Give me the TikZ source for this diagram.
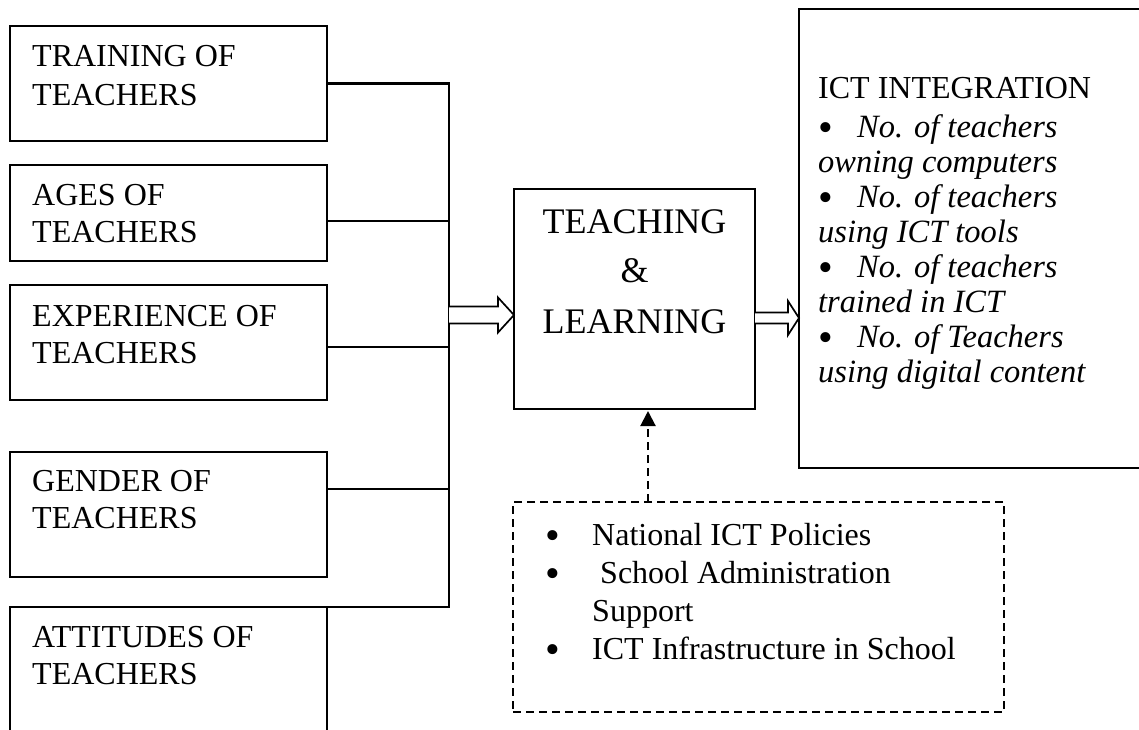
\documentclass[tikz,border=0pt]{standalone}
\usepackage{fontspec}
\setmainfont{Liberation Serif}
\usetikzlibrary{arrows.meta,calc}
\newcommand{\bigbul}{\raisebox{-4pt}{\fontsize{42}{42}\selectfont\upshape •}}
\begin{document}
\begin{tikzpicture}[x=1pt,y=-1pt,
  box/.style={draw, line width=2.1pt, rectangle, inner sep=0pt, outer sep=0pt},
  dbox/.style={draw, line width=2.1pt, rectangle, inner sep=0pt, outer sep=0pt, dash pattern=on 8pt off 5pt},
  link/.style={line width=2.1pt},
  fat/.style={draw, line width=1.7pt, fill=white, line join=miter},
  lbl/.style={anchor=base west, inner sep=0pt, font=\fontsize{32}{38}\selectfont},
  big/.style={anchor=base, inner sep=0pt, font=\fontsize{36}{40}\selectfont},
  ital/.style={anchor=base west, inner sep=0pt, font=\fontsize{32.5}{36}\selectfont\itshape},
  blt/.style={anchor=base west, inner sep=0pt, font=\fontsize{32.5}{36}\selectfont}
]
\useasboundingbox (0,0) rectangle (1139,729);
\clip (0,0) rectangle (1139,729);

% left boxes
\node[box, minimum width=317pt, minimum height=115pt] (b1) at (168.5,83.5) {};
\node[box, minimum width=317pt, minimum height=96pt]  (b2) at (168.5,213) {};
\node[box, minimum width=317pt, minimum height=115pt] (b3) at (168.5,342.5) {};
\node[box, minimum width=317pt, minimum height=125pt] (b4) at (168.5,514.5) {};
\node[box, minimum width=317pt, minimum height=180pt] (b5) at (168.5,697) {};

\node[lbl] (t1a) at (32,66) {TRAINING OF};
\node[lbl] (t1b) at (32,105) {TEACHERS};
\node[lbl] (t2a) at (32,205) {AGES OF};
\node[lbl] (t2b) at (32,242) {TEACHERS};
\node[lbl] (t3a) at (32,326) {EXPERIENCE OF};
\node[lbl] (t3b) at (32,363) {TEACHERS};
\node[lbl] (t4a) at (32,491) {GENDER OF};
\node[lbl] (t4b) at (32,528) {TEACHERS};
\node[lbl] (t5a) at (32,647) {ATTITUDES OF};
\node[lbl] (t5b) at (32,684) {TEACHERS};

% bus
\coordinate (j1) at (449,83.5);
\coordinate (j2) at (449,221);
\coordinate (j3) at (449,347);
\coordinate (j4) at (449,489);
\coordinate (j5) at (449,607);
\draw[link] (b1.east) -- (j1) -- (j5) -- (b5.north east);
\draw[link] (b2.east |- j2) -- (j2);
\draw[link] (b3.east |- j3) -- (j3);
\draw[link] (b4.east |- j4) -- (j4);

% central box
\node[box, minimum width=241pt, minimum height=220pt] (teach) at (634.5,299) {};
\node[big] (tt1) at (634.5,233) {TEACHING};
\node[big] (tt2) at (634.5,282) {\&};
\node[big] (tt3) at (634.5,333) {LEARNING};

% ICT box (extends past the right edge)
\node[box, minimum width=381pt, minimum height=459pt] (ict) at (989.5,238.5) {};
\node[lbl] (i0) at (818,98) {ICT INTEGRATION};
\node[blt] (i1) at (818,137) {\makebox[39pt][l]{\bigbul}\textit{No. of teachers}};
\node[ital] (i2) at (818,172) {owning computers};
\node[blt] (i3) at (818,207) {\makebox[39pt][l]{\bigbul}\textit{No. of teachers}};
\node[ital] (i4) at (818,242) {using ICT tools};
\node[blt] (i5) at (818,277) {\makebox[39pt][l]{\bigbul}\textit{No. of teachers}};
\node[ital] (i6) at (818,312) {trained in ICT};
\node[blt] (i7) at (818,347) {\makebox[39pt][l]{\bigbul}\textit{No. of Teachers}};
\node[ital] (i8) at (818,382) {using digital content};

% dashed box
\node[dbox, minimum width=491pt, minimum height=210pt] (dash) at (758.5,607) {};
\node[lbl] (d1) at (545,545) {\makebox[47pt][l]{\bigbul}National ICT Policies};
\node[lbl] (d2) at (545,583) {\makebox[47pt][l]{\bigbul}\ School Administration};
\node[lbl] (d3) at (592,621) {Support};
\node[lbl] (d4) at (545,659) {\makebox[47pt][l]{\bigbul}ICT Infrastructure in School};

% dashed arrow
\coordinate (ax) at (648,0);
\draw[line width=2.1pt, dash pattern=on 8pt off 5pt, -{Triangle[length=15pt,width=15pt]}, shorten >=2pt]
  (dash.north -| ax) -- (teach.south -| ax);

% hollow arrows
\coordinate (ly) at (0,315);
\coordinate (ry) at (0,318);
\coordinate (lt) at (teach.west |- ly);
\coordinate (ls) at (j1 |- ly);
\draw[fat] ($(ls)+(0,-8.5)$) -- ($(lt)+(-16,-8.5)$) -- ($(lt)+(-16,-17.5)$) -- (lt)
  -- ($(lt)+(-16,17.5)$) -- ($(lt)+(-16,8.5)$) -- ($(ls)+(0,8.5)$);
\coordinate (rt) at (ict.west |- ry);
\coordinate (rs) at (teach.east |- ry);
\draw[fat] ($(rs)+(0,-5.5)$) -- ($(rt)+(-11,-5.5)$) -- ($(rt)+(-11,-17)$) -- (rt)
  -- ($(rt)+(-11,17)$) -- ($(rt)+(-11,5.5)$) -- ($(rs)+(0,5.5)$);
\end{tikzpicture}
\end{document}
